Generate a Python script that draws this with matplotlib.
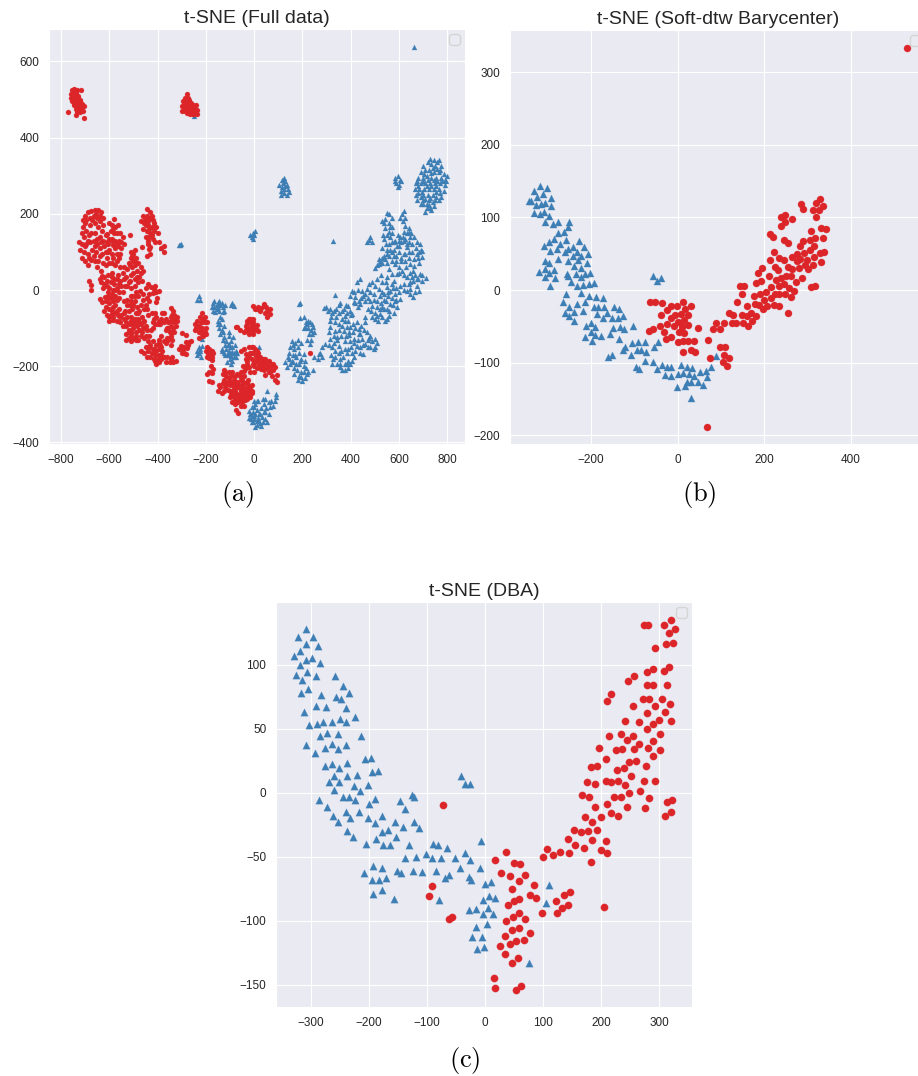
# t-SNE scatter plots for full data and the two barycenter methods
import matplotlib
matplotlib.use('Agg')
import matplotlib.pyplot as plt
import numpy as np
import seaborn as sns

sns.set_style('darkgrid')
plt.rcParams['font.family'] = ['Liberation Sans', 'DejaVu Sans']
plt.rcParams['mathtext.fontset'] = 'cm'

RED = '#dc2528'
BLUE = '#3d7fb5'

# Panel (a), full data
full_blue = [
    (663,637),(-250,457),(-307,119),(-303,122),(-310,117),(-384,110),(329,130),
    (125,295),(115,290),(130,285),(120,280),(135,275),(105,275),(115,270),(125,265),(140,265),(110,260),(125,255),(135,250),(112,250),(145,258),(120,288),(128,272),
    (-10,140),(-5,150),(5,155),(-15,145),(0,145),(-3,135),
    (730,345),(745,340),(720,335),(765,340),(700,325),(735,330),(750,325),(775,325),(690,310),(710,315),(725,315),(745,310),(765,310),(785,305),(790,290),(800,300),
    (680,295),(700,295),(715,300),(735,295),(755,295),(775,295),(670,280),(690,280),(710,280),(730,280),(750,280),(770,280),(790,275),(665,265),(685,265),(705,265),
    (725,265),(745,265),(765,265),(785,260),(670,250),(690,245),(720,250),(740,250),(755,245),(775,245),(675,235),(700,235),(725,235),(740,230),(750,235),(700,225),
    (715,215),(730,215),(745,220),(710,205),(725,222),(695,258),(715,272),(735,308),(755,272),(680,272),(760,318),
    (740,320),(757,335),(770,315),(705,305),(720,290),(745,290),(760,285),(780,285),(795,285),(675,285),(700,285),(735,272),(755,258),(770,255),(680,255),(700,250),(710,240),(730,242),(765,235),(690,225),(735,210),(718,225),
    (585,295),(595,300),(605,290),(590,280),(600,275),(610,285),(595,270),(585,285),
    (551,203),(530,182),(544,186),(571,190),(558,177),(544,164),(558,151),(606,190),(623,208),(613,199),(627,168),(641,164),(620,151),(641,151),(606,138),(627,134),(648,138),(662,138),
    (482,138),(468,125),(489,125),(475,132),(537,134),(565,138),(578,125),(558,120),(592,116),(634,112),(675,125),(689,120),(696,103),(696,86),(682,99),(599,99),(537,90),(558,90),(578,90),
    (516,81),(516,68),(502,59),(544,81),(585,68),(620,94),(627,77),(662,81),(648,68),(662,64),(558,55),(572,42),(551,33),(592,42),(613,51),(689,42),(714,31),(675,29),(654,33),(634,33),
    (620,16),(648,20),(675,11),(696,24),(682,-2),(648,3),(657,-17),(634,-2),(578,24),(551,7),(530,-6),(565,-2),(585,-10),(606,-24),(546,-28),(565,-37),(592,-45),(578,-59),(558,-67),(544,-80),
    (523,-63),(503,-59),(489,-41),(509,-28),(496,-10),(502,11),(489,20),(516,3),(461,-10),(447,-2),(468,3),(437,29),(426,20),(405,-2),(398,-15),(419,-19),(412,-32),(440,-37),(433,-28),
    (336,-12),(357,-35),(391,-41),(371,-50),(398,-54),(315,-50),(291,-47),(322,-59),(350,-61),(378,-67),(405,-63),(461,-72),(461,-85),(489,-72),(509,-67),(315,-82),(378,-80),(315,-98),(385,-98),
    (309,-111),(336,-107),(371,-107),(398,-98),(433,-102),(468,-111),(482,-120),(315,-128),(343,-124),(378,-133),(412,-128),(433,-115),(447,-128),(502,-128),(322,-150),(350,-146),(398,-133),
    (391,-155),(426,-146),(461,-141),(482,-150),(502,-150),(452,-168),(412,-176),(391,-185),(357,-181),(336,-176),(322,-194),(377,-210),(357,-203),(398,-194),
    (191,-34),(185,-36),(191,-73),(205,-72),(233,-85),(212,-98),(246,-98),(226,-115),(233,-141),(194,-139),(156,-134),(143,-166),(156,-185),(136,-203),(191,-185),(205,-168),(177,-211),(198,-238),(219,-220),(246,-210),(267,-168),(281,-176),(295,-141),
    (240,-90),(225,-82),(248,-110),(170,-140),(180,-150),(165,-155),(175,-175),(185,-195),(165,-205),(150,-195),(205,-200),(195,-215),(215,-205),(185,-225),(210,-230),
    (530,20),(545,20),(520,-15),(540,-10),(555,-15),(575,5),(600,-5),(525,40),(510,30),(570,-20),(585,-30),(530,-45),(550,-50),(470,-20),(480,-30),(450,-15),(430,0),(415,-5),
    (410,-90),(425,-85),(445,-95),(350,-90),(365,-95),(335,-85),(360,-120),(395,-118),(410,-110),(330,-140),(360,-160),(375,-155),(440,-150),(470,-130),(405,-165),(375,-195),(390,-205),(345,-195),
    (530,110),(550,105),(570,100),(590,75),(610,75),(600,60),(630,60),(645,45),(660,50),(625,95),(640,100),(610,125),(595,145),(570,165),(620,130),(640,125),(655,120),(675,95),(685,70),(665,40),
    (560,200),(540,175),(565,165),(550,145),(570,150),(535,145),(625,190),(615,180),(635,150),(650,150),(615,140),(635,120),(600,130),(585,130),(570,125),(545,120),(600,115),(580,105),(565,105),(550,95),(530,85),(520,75),(510,65),(530,70),(550,70),(570,75),(590,90),(610,85),(640,85),(655,100),(670,110),(690,105),(680,85),
    (600,45),(620,40),(640,15),(660,25),(680,30),(695,40),(665,-5),(645,-10),(620,0),(605,10),(590,5),(570,15),(555,-5),(540,-25),(525,-35),(510,-45),(495,-25),(480,-5),(475,15),(460,-30),(445,-20),(430,-45),(420,-35),(470,-50),(485,-55),(500,-75),(520,-50),(540,-50),(560,-55),(575,-40),(590,-25),(530,-70),(550,-75),(515,-80),
    (400,-65),(385,-60),(365,-55),(350,-40),(340,-50),(380,-40),(330,-55),(320,-70),(305,-55),(300,-45),(390,-80),(365,-75),(340,-70),(350,-105),(380,-120),(395,-110),(420,-100),(440,-115),(455,-105),(475,-125),(490,-135),(510,-140),(495,-155),(470,-150),(450,-145),(430,-130),(415,-140),(400,-150),(385,-165),(370,-175),(350,-165),(335,-160),(320,-170),(345,-130),(330,-120),(310,-145),(325,-180),(355,-195),(365,-210),(385,-195),(405,-185),(420,-160),(440,-165),
    (145,-180),(160,-170),(150,-150),(170,-170),(185,-165),(195,-180),(210,-185),(165,-220),(180,-235),(195,-228),(205,-215),(225,-215),(175,-195),(160,-190),(140,-175),(130,-190),(205,-100),(220,-90),(235,-105),(215,-85),(225,-100),(240,-115),(220,-130),(235,-130),(180,-130),(160,-145),(250,-175),(265,-180),(275,-165),(280,-150),
    (53,-264),(91,-272),(91,-281),(18,-290),(4,-299),(46,-286),(39,-299),(60,-294),(80,-303),(66,-307),(-10,-307),(-17,-325),(25,-325),(4,-325),(46,-338),(18,-342),(-3,-347),(11,-355),(53,-347),(32,-334),
    (14,-291),(0,-308),(-21,-317),(-7,-330),(21,-326),(-14,-339),(14,-343),(28,-356),(-2,-338),(30,-310),(45,-320),(60,-325),
    (0,-290),(35,-285),(70,-290),(85,-290),(10,-315),(50,-310),(-5,-320),(35,-345),(0,-330),(15,-335),(40,-320),(25,-350),(-10,-345),(5,-360),(-20,-335),
    (-230,-15),(-225,-25),(-235,-25),(-165,-30),(-175,-45),(-165,-45),(-150,-35),(-155,-50),(-140,-40),(-130,-45),(-120,-40),(-145,-55),(-160,-58),(-130,-58),(-145,-30),(-95,-38),(-90,-35),(-85,-42),
    (-150,-80),(-140,-90),(-135,-75),(-145,-100),(-135,-105),(-125,-95),(-140,-115),(-125,-124),(-104,-120),(-86,-124),(-104,-142),(-90,-150),(-131,-159),(-118,-155),(-104,-159),(-90,-162),(-76,-159),(-97,-172),(-83,-177),(-111,-190),(-94,-194),
    (-115,-135),(-95,-135),(-110,-170),(-80,-145),(-120,-170),(-217,-129),(-217,-148),(-228,-164),(-235,-170),(-221,-177),(-228,-150),(-225,-160),(20,-150),
    (-130,-130),(-120,-145),(-100,-150),(-110,-145),(-85,-165),(-100,-180),(-95,-165),(-110,-165),(-125,-165),(-135,-155),(-70,-165),(-75,-175),(-90,-185),(-105,-110),(-130,-110),(-150,-90),(-140,-70),(-170,-35),(-155,-40),(-135,-35),(-125,-55),(-150,-45),(-170,-55),(-225,-155),(-235,-160),
]
full_red = [
    (-755,525),(-745,528),(-735,526),(-757,515),(-748,518),(-738,517),(-760,505),(-750,505),(-738,508),(-728,505),(-755,495),(-745,495),(-733,497),(-722,495),(-748,485),(-738,485),(-726,487),(-714,488),(-740,475),(-728,477),(-716,478),(-706,482),(-732,468),(-720,468),(-710,470),
    (-742,500),(-752,500),(-735,490),(-725,480),(-745,490),(-718,472),(-740,512),(-750,512),(-730,510),(-720,500),
    (-716,524),(-772,467),(-706,452),(-738,459),
    (-280,514),(-287,505),(-275,503),(-296,495),(-285,493),(-273,492),(-262,490),(-298,482),(-287,480),(-275,480),(-263,480),(-252,480),(-242,485),(-298,470),(-285,470),(-273,472),(-260,470),(-248,470),(-238,472),(-235,463),(-248,462),(-280,465),(-265,462),
    (-290,488),(-278,486),(-268,485),(-255,475),(-245,475),(-290,475),(-278,475),(-255,485),(-270,498),(-282,498),(-268,465),(-255,463),
    (-700,195),(-690,205),(-675,207),(-660,210),(-645,210),(-635,205),(-628,190),(-710,185),(-700,175),(-680,190),(-665,195),(-650,190),(-640,180),(-625,170),(-710,165),(-695,155),(-680,170),(-660,175),(-645,165),(-630,155),(-615,145),
    (-705,140),(-690,130),(-675,150),(-660,150),(-640,140),(-625,130),(-610,125),(-725,125),(-712,120),(-700,115),(-680,125),(-665,130),(-650,120),(-640,110),(-720,105),(-705,100),(-690,95),(-670,105),(-655,100),(-640,90),
    (-715,85),(-700,75),(-690,65),(-675,80),(-660,75),(-650,60),(-635,50),(-625,70),(-610,85),(-600,105),(-590,130),(-578,110),(-570,95),(-600,70),(-585,85),(-575,65),(-560,85),(-555,60),
    (-695,185),(-670,185),(-655,200),(-640,195),(-715,150),(-685,145),(-650,135),(-635,125),(-695,120),(-660,115),(-620,115),(-685,85),(-665,90),(-630,95),(-615,100),(-645,75),(-615,65),(-590,70),(-570,75),(-590,95),(-605,100),(-555,95),(-570,120),(-585,160),(-600,135),(-550,125),
    (-579,186),(-600,175),(-588,170),(-575,165),(-562,170),(-595,155),(-580,150),(-568,150),(-555,150),(-610,148),(-590,135),(-575,130),(-560,130),(-545,140),(-540,120),(-565,115),(-550,110),(-585,118),(-605,120),(-515,145),
    (-445,213),(-430,205),(-460,195),(-445,195),(-430,190),(-420,185),(-470,180),(-455,175),(-440,170),(-425,165),(-415,175),(-460,160),(-445,155),(-430,150),(-415,155),(-450,140),(-435,140),(-420,135),(-400,150),(-410,125),(-395,125),(-385,110),(-375,115),(-372,100),
    (-425,195),(-438,180),(-452,185),(-435,160),(-450,170),(-422,145),(-440,130),(-405,165),
    (-440,121),(-436,107),(-443,90),(-466,114),(-430,112),(-430,95),
    (-512,100),(-505,90),(-495,105),(-490,85),(-500,75),(-515,65),(-495,65),(-480,70),(-485,50),(-470,60),(-475,35),(-460,50),(-465,25),(-480,20),(-495,30),(-510,40),(-525,55),(-540,60),(-530,35),(-545,45),(-555,25),(-520,20),(-535,10),(-510,5),(-495,10),(-490,-5),(-505,-15),(-480,-15),
    (-500,95),(-510,85),(-520,70),(-505,60),(-500,45),(-485,35),(-470,45),(-490,70),(-540,30),(-525,10),(-515,25),(-550,10),(-565,40),
    (-640,30),(-630,38),(-620,35),(-610,25),(-635,20),(-620,15),(-605,40),(-590,45),(-580,30),(-595,20),(-580,15),(-570,30),(-600,5),(-585,0),(-570,5),(-560,15),(-590,-10),(-575,-15),(-560,-5),(-605,-15),(-615,-30),(-600,-35),(-585,-30),(-570,-25),(-637,-24),(-616,-19),(-630,-32),(-685,25),(-678,14),(-675,0),
    (-610,10),(-625,5),(-590,35),(-605,-5),(-590,-20),(-575,0),(-560,-20),(-545,-5),(-600,-20),(-540,-30),(-525,-25),(-510,-15),(-495,-15),
    (-615,-45),(-600,-50),(-585,-45),(-575,-40),(-560,-50),(-610,-65),(-595,-65),(-580,-60),(-565,-65),(-550,-65),(-535,-55),(-525,-40),(-510,-30),(-495,-30),(-485,-45),(-470,-40),(-520,-55),(-505,-50),(-490,-60),(-475,-55),
    (-600,-80),(-585,-78),(-570,-80),(-555,-85),(-540,-75),(-525,-72),(-510,-70),(-495,-75),(-480,-75),(-465,-70),(-450,-40),(-545,-95),(-530,-95),(-515,-90),(-500,-90),(-485,-95),(-470,-90),(-455,-80),(-440,-65),(-490,-110),(-475,-105),(-460,-100),(-445,-105),(-510,-110),
    (-590,-55),(-570,-55),(-555,-72),(-585,-72),(-600,-70),(-620,-55),(-540,-60),(-515,-40),(-500,-40),(-530,-85),(-510,-80),(-495,-85),(-475,-85),(-460,-85),(-480,-60),(-455,-50),(-445,-50),(-520,-105),(-500,-100),(-530,-130),(-520,-110),(-490,-120),(-465,-110),(-450,-95),(-435,-120),
    (-429,7),(-415,3),(-405,-5),(-395,-2),(-420,-8),(-410,10),(-440,15),(-450,5),(-435,-10),(-445,-20),(-401,-21),(-408,-32),(-436,-28),(-473,-2),(-460,-10),(-462,-25),
    (-530,-115),(-520,-125),(-510,-115),(-510,-135),(-500,-125),(-490,-130),(-480,-130),(-470,-120),(-455,-125),(-446,-120),(-429,-105),
    (-440,-135),(-430,-145),(-420,-135),(-415,-155),(-405,-145),(-395,-155),(-450,-150),(-440,-160),(-425,-165),(-410,-170),(-395,-170),(-470,-160),(-455,-165),(-380,-160),(-375,-175),(-410,-185),(-395,-190),(-385,-180),(-365,-190),(-345,-180),(-335,-190),(-340,-175),(-325,-185),
    (-435,-150),(-420,-155),(-405,-160),(-395,-140),(-445,-175),(-430,-175),(-415,-180),(-400,-180),(-385,-170),(-360,-175),(-350,-190),(-405,-195),(-385,-150),(-360,-125),(-340,-130),
    (-395,-130),(-385,-120),(-375,-135),(-365,-140),(-355,-130),(-345,-145),(-350,-125),(-390,-145),
    (-425,-60),(-415,-75),(-405,-70),(-420,-85),(-410,-90),(-395,-80),(-385,-75),(-375,-85),(-420,-100),(-380,-60),(-343,-47),(-372,-60),(-340,-65),(-330,-65),(-320,-70),(-345,-80),(-330,-85),(-318,-80),(-355,-85),(-345,-95),(-335,-100),(-325,-95),(-360,-100),(-350,-110),(-340,-110),(-365,-105),
    (-410,-60),(-400,-90),(-390,-90),(-365,-75),(-335,-55),(-325,-75),(-335,-75),(-355,-100),(-345,-70),(-330,-110),(-345,-120),
    (-298,-113),(-284,-118),(-270,-137),(-284,-137),(-304,-146),(-290,-150),(-311,-155),(-298,-164),(-284,-168),(-280,-152),(-300,-155),(-260,-135),(-295,-155),(-290,-165),(-275,-145),
    (-215,-60),(-205,-70),(-225,-70),(-235,-80),(-220,-85),(-205,-85),(-195,-85),(-245,-90),(-230,-95),(-215,-100),(-200,-100),(-245,-105),(-230,-110),(-215,-115),(-200,-115),(-228,-125),(-240,-100),(-210,-75),(-215,-85),(-235,-95),(-220,-105),(-205,-110),(-225,-100),(-210,-120),
    (-195,-150),(-185,-155),(-175,-160),(-200,-160),(-190,-165),(-180,-170),(-170,-165),(-195,-175),(-185,-178),(-190,-158),(-180,-160),(-190,-172),(-175,-175),
    (-173,-184),(-180,-199),(-194,-221),(-173,-219),(-187,-238),(-173,-242),(-169,-207),(-185,-215),
    (-125,-210),(-115,-225),(-105,-215),(-125,-235),(-110,-240),(-95,-225),(-85,-235),(-70,-220),(-55,-215),(-100,-250),(-85,-250),(-70,-240),(-55,-235),(-40,-225),(-25,-235),(-10,-250),
    (-140,-255),(-150,-265),(-135,-270),(-120,-255),(-110,-262),(-95,-265),(-100,-280),(-80,-265),(-70,-255),(-55,-250),(-40,-245),(-25,-250),(-15,-265),(-85,-280),(-70,-272),(-55,-265),(-40,-262),(-25,-265),(-75,-290),(-60,-285),(-45,-280),(-30,-275),(-15,-280),(-50,-295),(-40,-305),(-75,-315),(-65,-322),(-55,-305),(-90,-295),(-80,-300),
    (-130,-220),(-120,-215),(-105,-230),(-90,-215),(-80,-225),(-60,-225),(-50,-235),(-95,-240),(-80,-240),(-65,-250),(-45,-255),(-30,-242),(-115,-250),(-130,-245),(-145,-248),(-125,-265),(-85,-258),(-60,-258),(-30,-258),(-10,-270),(-95,-272),(-78,-272),(-62,-275),(-48,-272),(-35,-268),(-20,-272),(-68,-282),(-52,-288),(-38,-288),(-28,-285),(-65,-295),(-85,-290),
    (-3,-41),(18,-45),(39,-37),(39,-43),(66,-50),(46,-59),(66,-63),(53,-72),(25,-54),(10,-50),(-17,-76),(-3,-85),(11,-93),(-3,-107),(18,-107),(4,-98),(-30,-80),(-20,-75),(-10,-90),(-25,-100),(-15,-105),(-5,-75),(5,-95),(-35,-95),(-40,-110),(-20,-115),(-60,-105),(-76,-98),(-70,-97),
    (5,-50),(30,-48),(55,-55),(50,-45),(-10,-95),(-15,-85),(-30,-90),(0,-100),(10,-105),(-25,-110),(-5,-115),(-35,-105),
    (-3,-150),(11,-159),(-17,-165),(25,-176),(46,-181),(60,-185),(-10,-180),(11,-185),(32,-194),(53,-198),(66,-203),(87,-203),(80,-211),(60,-216),(46,-224),(94,-224),(94,-242),(-17,-255),(-10,-264),
    (-41,-155),(-21,-150),(-55,-159),(-35,-168),(-14,-164),(7,-172),(-28,-186),(0,-186),(21,-177),(-48,-199),(-21,-203),(0,-216),(-41,-212),(21,-194),(35,-180),(10,-205),(30,-208),
    (-10,-150),(5,-155),(15,-165),(-5,-165),(10,-175),(25,-185),(40,-190),(20,-200),(35,-200),(50,-185),(70,-195),(65,-215),(80,-195),(40,-210),(55,-205),(-35,-180),(-20,-175),(-5,-195),(-30,-195),(-15,-215),(-35,-205),(10,-190),(0,-200),(75,-225),(85,-235),
    (233,-166),
]

# Panel (b), Soft-dtw barycenter
soft_blue = [
    (-318,143),(-302,141),(-332,137),(-310,132),(-324,128),(-293,127),(-344,122),(-338,122),(-328,117),(-315,118),(-305,120),(-293,115),(-332,106),(-318,104),(-308,107),(-298,102),(-306,94),(-288,91),(-276,94),(-251,93),(-254,87),
    (-275,78),(-262,80),(-286,70),(-258,69),(-296,66),(-308,61),(-271,64),(-227,68),(-242,59),(-217,59),(-278,57),(-252,56),(-294,54),(-261,52),(-233,52),(-206,49),(-242,47),(-222,47),(-275,43),(-231,42),(-253,40),(-307,40),(-296,37),(-209,37),
    (-240,33),(-223,31),(-306,29),(-285,27),(-321,25),(-296,24),(-202,24),(-255,22),(-235,22),(-213,22),(-253,19),(-307,18),(-223,18),(-282,17),(-246,11),(-294,5),(-232,6),(-218,7),(-205,8),(-192,9),
    (-223,-4),(-258,-6),(-205,-8),(-188,-10),(-173,-11),(-265,-17),(-214,-16),(-232,-19),(-250,-23),(-194,-23),(-184,-23),(-171,-23),(-146,-23),(-136,-26),(-219,-29),(-238,-30),(-260,-32),(-250,-36),(-185,-33),(-162,-32),(-172,-38),(-152,-38),(-138,-38),(-126,-36),
    (-240,-42),(-212,-49),(-201,-46),(-190,-51),(-104,-49),(-148,-52),(-132,-51),(-123,-54),(-201,-58),(-213,-64),(-190,-62),(-176,-63),(-156,-61),(-135,-67),(-198,-70),(-105,-73),(-92,-72),(-76,-72),(-45,-71),(-54,-79),(-122,-78),(-125,-82),(-93,-83),(-85,-83),(-73,-86),(-108,-90),(-160,-92),(-152,-89),
    (-76,-98),(-56,-99),(-37,-103),(-96,-106),(-88,-109),(-47,-109),(-25,-106),(-14,-106),(8,-103),(21,-106),(34,-107),(12,-114),(2,-115),(-29,-117),(-16,-118),(26,-116),(38,-119),(53,-113),(65,-111),(68,-120),(48,-127),(58,-131),(31,-127),(18,-132),(21,-127),(-1,-134),(32,-148),
    (-57,19),(-39,16),(-48,12),(88,-91),(78,-106),
]
soft_red = [
    (530,333),(68,-188),(329,125),(319,120),(336,115),(285,118),(289,112),(314,110),(326,110),(320,100),(249,103),(239,100),(265,98),(249,94),(240,88),(332,86),(342,84),(309,81),(213,77),(221,73),(245,69),(255,65),(291,68),(307,69),(318,71),(335,72),
    (283,61),(315,61),(305,55),(222,53),(276,50),(293,51),(329,51),(338,52),(265,45),(315,46),(213,42),(235,44),(245,41),(284,43),(300,42),(275,40),(332,39),(294,35),(312,34),(225,32),(255,32),(196,30),(232,28),(265,29),(281,30),(302,29),
    (187,23),(212,19),(193,13),(182,10),(227,14),(238,16),(250,19),(261,19),(288,16),(273,11),(144,5.5),(154,6),(235,5.5),(246,8),(215,4),(258,3),(308,4),(318,5),(205,-3),(270,-1),(148,-6),(177,-8),(190,-5),(225,-5),(235,-6),(248,-6),(217,-11),(262,-10),
    (199,-14),(137,-17),(178,-19),(188,-20),(160,-22),(207,-22),(224,-21),(235,-22),(197,-26),(255,-31),(119,-31),(129,-34),(148,-34),(169,-31),(160,-36),(182,-36),(172,-43),(125,-45),(136,-46),(151,-46),(162,-50),(107,-46),(88,-46),(81,-54),(97,-54),(47,-52),
    (70,-69),(98,-79),(110,-78),(76,-93),(108,-89),(118,-93),(105,-99),(115,-104),
    (-63,-17),(-52,-16),(-37,-17.5),(12,-16),(31,-22),(-2,-22),(-15,-22),(-24,-28),(18,-26),(-38,-35),(7,-33),(-6,-34),(25,-35),(-14,-39),(16,-41),(0,-44),(-24,-47),(-9,-49),(7,-46),(25,-48),(-41,-50),(-57,-53),(-66,-57),(10,-51),(-32,-58),(4,-58),(15,-59),(-15,-65),(-27,-68),(0,-72),(12,-70),(25,-70),(38,-70),(12,-85),(31,-83),(40,-86),
]

# Panel (c), DBA
dba_blue = [
    (-308,128),(-322,122),(-297,122),(-309,116),(-288,115),(-318,111),(-329,106.5),(-308,104),(-298,105),(-318,100),(-285,101),(-306,94),(-326,92),(-315,88),(-291,91),(-259,91),(-245,83),(-235,78),(-305,81),(-317,78),(-282,76),(-257,75),(-248,73),(-291,68),(-274,67),(-239,66),(-312,63),(-223,59),
    (-250,57.5),(-264,55.5),(-239,55),(-279,55),(-289,54),(-303,53),(-272,47),(-254,46),(-284,44),(-213,44.5),(-308,37),(-263,38),(-239,37),(-276,35),(-253,34),(-292,31),(-206,26),(-197,27),(-237,23),(-264,22.5),(-275,20.5),(-251,19.5),(-195,16),(-185,17),(-220,14),(-260,13),(-238,13),(-269,8),(-251,8),(-226,5),(-201,6),(-260,2),(-215,1),
    (-245,-3),(-235,-3),(-286,-6),(-224,-6),(-190,-5),(-200,-9),(-272,-11),(-240,-15),(-217,-15),(-261,-18),(-233,-20),(-201,-20),(-177,-18),(-253,-23),(-189,-24),(-167,-29),(-177,-31),(-238,-30),(-228,-35),(-188,-36),(-153,-35),(-205,-40),(-175,-41),(-164,-41),
    (-147,-6.5),(-138,-12.5),(-126,-2),(-122,-3),(-155,-23),(-141,-27),(-122,-23),(-113,-28),(-130,-41),(-90,-40),(-80,-41),(-66,-43),(-6,-38),(-138,-51),(-119,-50),(-102,-48),(-91,-51),(-76,-51),(-51,-51),(-35,-47),(-25,-53),(-9,-59),(-43,-59),(-61,-64),(-69,-67),(-85,-61),(-108,-62),(-124,-61),(-145,-63),(-152,-61),
    (-192,-57),(-178,-59),(-208,-63),(-195,-68),(-183,-68),(-171,-67),(-192,-79),(-177,-76),(-157,-83),(-79,-84),(-27,-66),(-24,-68),(1,-71),(10,-70),(-3,-84),(7,-81),(17,-82),(-27,-92),(-15,-91),(-3,-95),(6,-90),(14,-95),(4,-103),(-15,-105),(-22,-112.5),(-5,-112.5),(-13,-122),(-2,-121),
    (-42,13),(-35,7),(-26,6.5),(111,-72),(106,-86),(76,-133),
]
dba_red = [
    (-72,-10),(-91,-73),(-96,-81),(-57,-97),(-61,-99),
    (320,135),(308,131),(327,128),(274,131),(282,131),(317,125),(325,117),(312,116),(294,113),(318,98),(309,95),(289,97),(279,94),(257,91),(247,87),(279,84),(290,84),(314,84),(217,77),(211,72),(273,73),(283,73),(305,73),(294,68),(319,69),(256,68),(310,63),(280,62),(241,56),(265,55),(289,54),(300,56.5),(320,56),(280,50),(301,46),
    (214,44),(234,46),(245,41),(256,44),(289,40),(266,38),(196,35),(226,33),(237,34),(257,34),(281,35),(301,33),(290,29),(209,26),(248,24),(260,24.5),(183,20),(194,21),(277,21),(227,18),(239,19),(252,13),(176,8),(189,7),(208,9),(218,8),(230,9),(242,6),(274,9),(293,9),
    (167,-2),(180,-3),(222,-3),(235,-3),(249,0),(267,1),(283,-4),(314,-7),(323,-6),(210,-9),(189,-11),(245,-11),(276,-12),(218,-16),(230,-18),(321,-15),(310,-18),(172,-19),(200,-19),(184,-23),(193,-29),(154,-29),(166,-31),(177,-30),(144,-36),(184,-37),(209,-37.5),(155,-41),(171,-43),(200,-45),(211,-47),(145,-47),(129,-46),(107,-44),(117,-49),(100,-50),
    (36,-46),(18,-53),(183,-54),(51,-55),(61,-56),(28,-63),(43,-65),(69,-64),(58,-69),(85,-72),(46,-75),(147,-78),(137,-80),(78,-80),(88,-82),(59,-83),(50,-85),(40,-88),(122,-85),(143,-87.5),(133,-90),(205,-89),(124,-94),(98,-94),(59,-94),(49,-97),(69,-99),(37,-100.5),
    (58,-106),(47,-107.5),(78,-110),(34,-112),(67,-115),(53,-116),(43,-118),(26,-120),(35,-126),(57,-129),(47,-133),(16,-145),(18,-153),(54,-154),(63,-151),
]

titles = ['t-SNE (Full data)', 't-SNE (Soft-dtw Barycenter)', 't-SNE (DBA)']
captions = ['(a)', '(b)', '(c)']


def panel(box, blue, red, size, xlim, ylim, xticks, yticks, title, caption, cap_xy):
    # box is left, top, right, bottom in pixels of the 918x1076 figure
    left, top, right, bottom = box
    ax = fig.add_axes([left/918, 1-bottom/1076, (right-left)/918, (bottom-top)/1076])
    blue = np.array(blue)
    red = np.array(red)
    ax.scatter(blue[:, 0], blue[:, 1], s=size, marker='^', color=BLUE, edgecolor=(BLUE, 0.35), linewidth=0.5)
    ax.scatter(red[:, 0], red[:, 1], s=size, marker='o', color=RED, edgecolor=(RED, 0.35), linewidth=0.5)
    ax.set_xlim(xlim)
    ax.set_ylim(ylim)
    ax.set_xticks(xticks)
    ax.set_yticks(yticks)
    ax.tick_params(labelsize=8.5, colors='.15')
    ax.set_title(title, fontsize=14, color='.15', pad=4.5)
    # empty legend box, the original plot had no labels
    ax.legend(handles=[], loc='upper right', frameon=True, facecolor='#eaeaf2', edgecolor='#d0d0d0', borderaxespad=0.35)
    fig.text(cap_xy[0]/918, 1-cap_xy[1]/1076, r'$\mathrm{' + caption + '}$', fontsize=19, ha='center', va='center', color='black')
    return ax


fig = plt.figure(figsize=(9.18, 10.76), dpi=100)
panel((49, 29, 465, 444), full_blue, full_red, 13, (-850, 874), (-404, 685),
      range(-800, 801, 200), range(-400, 601, 200), titles[0], captions[0], (238, 495))
panel((510, 30, 926, 444), soft_blue, soft_red, 26, (-387, 574), (-212, 358),
      [-200, 0, 200, 400], [-200, -100, 0, 100, 200, 300], titles[1], captions[1], (699, 495))
panel((276, 602, 692, 1007), dba_blue, dba_red, 28, (-360, 357), (-167.5, 149),
      [-300, -200, -100, 0, 100, 200, 300], [-150, -100, -50, 0, 50, 100], titles[2], captions[2], (465, 1060))

plt.savefig('out.png', dpi=100)
